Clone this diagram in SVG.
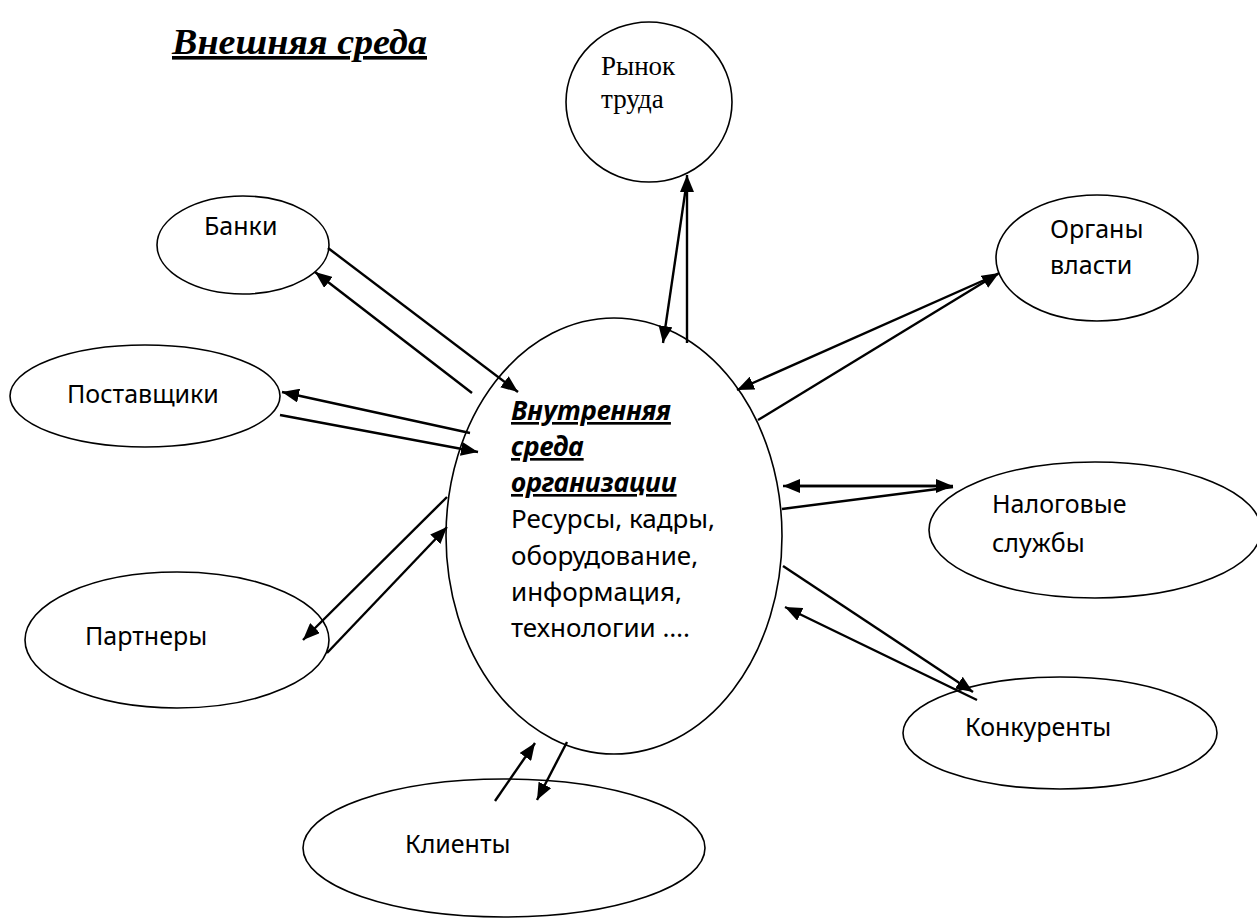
<svg xmlns="http://www.w3.org/2000/svg" width="1257" height="922" viewBox="0 0 1257 922">
  <defs>
    <marker id="arrow" markerUnits="userSpaceOnUse" markerWidth="18" markerHeight="14" refX="17" refY="7" orient="auto">
      <path d="M0,0 L17,7 L0,14 Z" fill="#000"/>
    </marker>
    <style>
      .node { fill: #fff; stroke: #000; stroke-width: 1.6; }
      .lbl { font-family: "Noto Sans", "Open Sans", sans-serif; font-size: 25px; fill: #000; }
      .serif { font-family: "Liberation Serif", "Times New Roman", serif; font-size: 27px; fill: #000; }
      .title { font-family: "Liberation Serif", "Times New Roman", serif; font-size: 36px; font-weight: bold; font-style: italic; text-decoration: underline; fill: #000; }
      .head { font-family: "Noto Sans", "Open Sans", sans-serif; font-size: 26.5px; font-weight: bold; font-style: italic; text-decoration: underline; fill: #000; }
      .body { font-family: "Noto Sans", "Open Sans", sans-serif; font-size: 26px; fill: #000; }
      .conn line { stroke: #000; stroke-width: 2.4; fill: none; }
      .conn line.a { marker-end: url(#arrow); }
    </style>
  </defs>

  <rect width="1257" height="922" fill="#fff"/>

  <text class="title" x="172" y="54" textLength="255" lengthAdjust="spacingAndGlyphs">Внешняя среда</text>

  <g id="core">
    <ellipse class="node" cx="614" cy="536" rx="168" ry="218"/>
    <text class="head" x="511" y="420">Внутренняя</text>
    <text class="head" x="511" y="456">среда</text>
    <text class="head" x="511" y="492">организации</text>
    <text class="body" x="511" y="528">Ресурсы, кадры,</text>
    <text class="body" x="511" y="565">оборудование,</text>
    <text class="body" x="511" y="601">информация,</text>
    <text class="body" x="511" y="637">технологии ….</text>
  </g>

  <g id="labour-market">
    <ellipse class="node" cx="649" cy="102" rx="83" ry="80"/>
    <text class="serif" x="601" y="75">Рынок</text>
    <text class="serif" x="601" y="108">труда</text>
  </g>

  <g id="banks">
    <ellipse class="node" cx="243" cy="245" rx="86" ry="49"/>
    <text class="lbl" x="204" y="235">Банки</text>
  </g>

  <g id="suppliers">
    <ellipse class="node" cx="145" cy="396" rx="135" ry="51"/>
    <text class="lbl" x="67" y="403">Поставщики</text>
  </g>

  <g id="partners">
    <ellipse class="node" cx="177" cy="640" rx="152" ry="68"/>
    <text class="lbl" x="85" y="645">Партнеры</text>
  </g>

  <g id="clients">
    <ellipse class="node" cx="504" cy="848" rx="201" ry="69"/>
    <text class="lbl" x="405" y="853">Клиенты</text>
  </g>

  <g id="authorities">
    <ellipse class="node" cx="1097" cy="258" rx="101" ry="63"/>
    <text class="lbl" x="1050" y="238">Органы</text>
    <text class="lbl" x="1050" y="274">власти</text>
  </g>

  <g id="tax-services">
    <ellipse class="node" cx="1095" cy="530" rx="166" ry="68"/>
    <text class="lbl" x="992" y="513">Налоговые</text>
    <text class="lbl" x="992" y="552">службы</text>
  </g>

  <g id="competitors">
    <ellipse class="node" cx="1060" cy="733" rx="157" ry="56"/>
    <text class="lbl" x="965" y="736">Конкуренты</text>
  </g>

  <!-- Connectors between the organisation and its environment -->
  <g id="connectors" class="conn">
    <!-- Банки -->
    <line class="a" x1="328" y1="248" x2="518" y2="392"/>
    <line class="a" x1="472" y1="393" x2="315" y2="272"/>
    <!-- Поставщики -->
    <line class="a" x1="470" y1="433" x2="282" y2="392"/>
    <line class="a" x1="280" y1="415" x2="478" y2="452"/>
    <!-- Партнеры -->
    <line class="a" x1="447" y1="497" x2="303" y2="640"/>
    <line class="a" x1="327" y1="653" x2="447" y2="527"/>
    <!-- Клиенты -->
    <line class="a" x1="495" y1="801" x2="535" y2="743"/>
    <line class="a" x1="567" y1="742" x2="537" y2="800"/>
    <!-- Рынок труда -->
    <line class="a" x1="687" y1="343" x2="687" y2="175"/>
    <line class="a" x1="687" y1="180" x2="663" y2="343"/>
    <!-- Органы власти -->
    <line class="a" x1="998" y1="274" x2="737" y2="390"/>
    <line class="a" x1="758" y1="420" x2="999" y2="273"/>
    <!-- Налоговые службы -->
    <line class="a" x1="800" y1="486" x2="953" y2="486"/>
    <line class="a" x1="940" y1="486" x2="783" y2="486"/>
    <line x1="782" y1="509" x2="953" y2="487"/>
    <!-- Конкуренты -->
    <line class="a" x1="783" y1="566" x2="973" y2="692"/>
    <line class="a" x1="977" y1="700" x2="785" y2="607"/>
  </g>
</svg>
